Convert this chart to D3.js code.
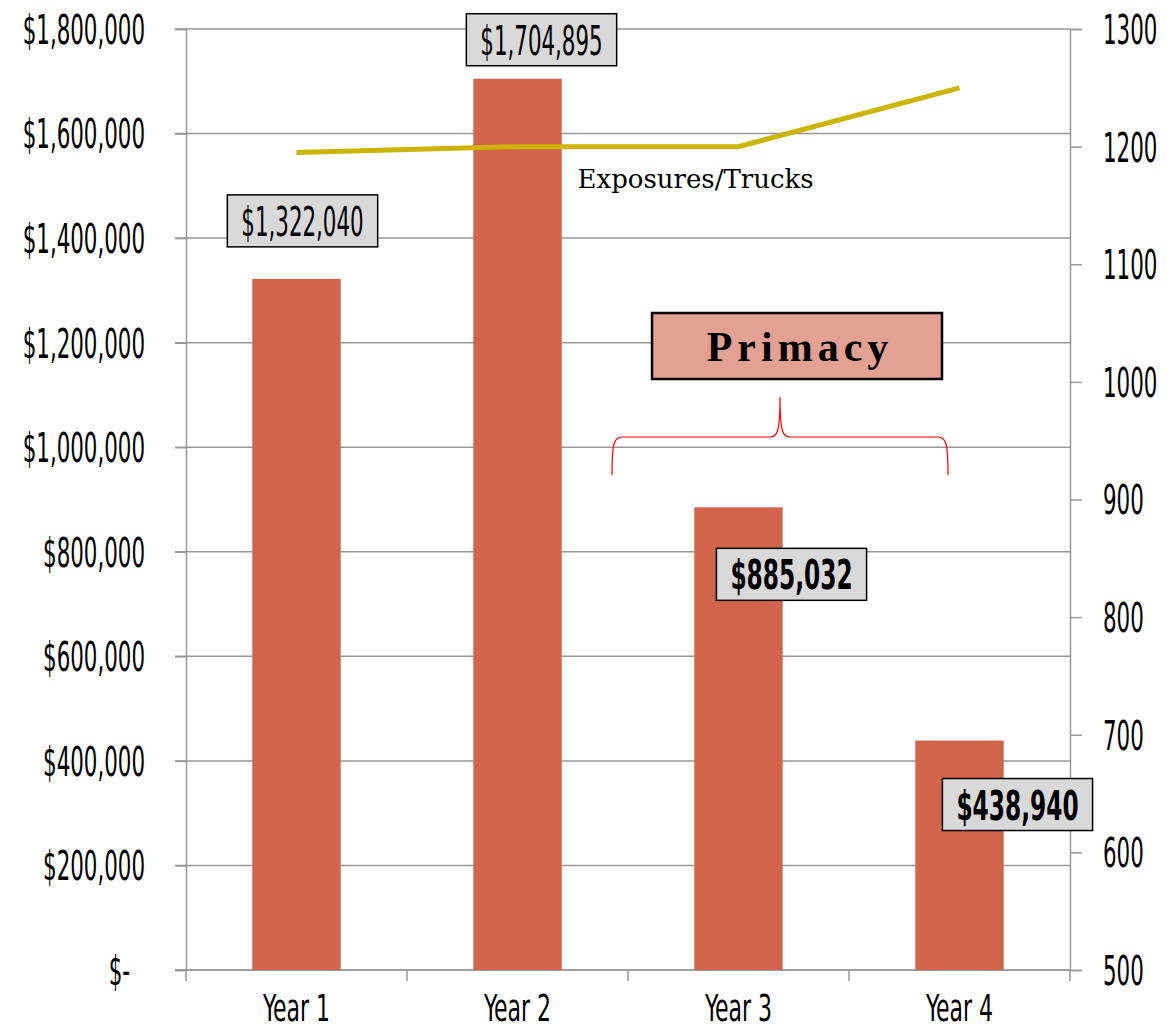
<!DOCTYPE html>
<html>
<head>
<meta charset="utf-8">
<script src="https://cdn.jsdelivr.net/npm/d3@7"></script>
<style>
  body { margin: 0; background: #fff; }
  .cond { font-family: "Liberation Sans Narrow", "DejaVu Sans Condensed", "Liberation Sans", sans-serif; }
</style>
</head>
<body>
<div id="chart"></div>
<script>
// data
const categories = ["Year 1", "Year 2", "Year 3", "Year 4"];
const premiums = [1322040, 1704895, 885032, 438940];
const exposures = [1195, 1200, 1200, 1250];
const leftTicks = [0, 200000, 400000, 600000, 800000, 1000000, 1200000, 1400000, 1600000, 1800000];
const rightTicks = [500, 600, 700, 800, 900, 1000, 1100, 1200, 1300];
const boldLabel = [false, false, true, true];
const lineName = "Exposures/Trucks";
const calloutText = "Primacy";

const width = 1173, height = 1031,
    margin = ({top: 29, right: 103, bottom: 61, left: 186});

let svg = d3.select("#chart").append("svg")
    .attr("width", width).attr("height", height)
    .attr("viewBox", [0, 0, width, height]);

let x = d3.scaleBand()
    .domain(categories)
    .range([margin.left, width - margin.right]);

let y = d3.scaleLinear()
    .domain([0, 1800000])
    .range([height - margin.bottom, margin.top]);

let y2 = d3.scaleLinear()
    .domain([500, 1300])
    .range([height - margin.bottom, margin.top]);

const grey = "#989898";
const fmt = d => d === 0 ? "$-" : "$" + d3.format(",")(d);

// squeeze text horizontally so it looks like the narrow display face of the original
function condense(sel, digitW, bold) {
    let probe = svg.append("text").attr("class", "cond")
        .attr("font-size", sel.attr("font-size") || 40)
        .attr("font-weight", bold ? "bold" : "normal")
        .text("0000000000");
    let k = digitW * 10 / probe.node().getComputedTextLength();
    probe.remove();
    sel.each(function() {
        let el = d3.select(this),
            tx = +el.attr("x") || 0, ty = +el.attr("y") || 0;
        el.attr("transform", `translate(${tx},${ty}) scale(${k},1) translate(${-tx},${-ty})`)
          .attr("data-w", this.getComputedTextLength() * k);
    });
}

// gridlines
svg.append("g")
    .selectAll("line")
    .data(leftTicks)
    .join("line")
    .attr("x1", margin.left - 11)
    .attr("x2", width - margin.right)
    .attr("y1", d => y(d)).attr("y2", d => y(d))
    .attr("stroke", grey).attr("stroke-width", 1.5);

// left axis
let gl = svg.append("g")
    .attr("transform", `translate(${margin.left},0)`)
    .call(d3.axisLeft(y).tickValues(leftTicks).tickSize(11).tickPadding(30).tickFormat(fmt));
gl.select(".domain").attr("stroke", grey).attr("stroke-width", 1.5);
gl.selectAll(".tick line").attr("stroke", grey).attr("stroke-width", 1.5);
gl.selectAll(".tick text")
    .attr("class", "cond").attr("font-size", 40).attr("fill", "#000")
    .attr("dy", "0.36em")
    .attr("x", d => d === 0 ? -56 : -41);
condense(gl.selectAll(".tick text"), 13.6);

// right axis
let gr = svg.append("g")
    .attr("transform", `translate(${width - margin.right},0)`)
    .call(d3.axisRight(y2).tickValues(rightTicks).tickSize(12).tickPadding(21).tickFormat(d3.format("d")));
gr.select(".domain").attr("stroke", grey).attr("stroke-width", 1.5);
gr.selectAll(".tick line").attr("stroke", grey).attr("stroke-width", 1.5);
gr.selectAll(".tick text")
    .attr("class", "cond").attr("font-size", 40).attr("fill", "#000")
    .attr("dy", "0.36em");
condense(gr.selectAll(".tick text"), 13.6);

// bottom axis: baseline, boundary ticks and category names
let gb = svg.append("g").attr("transform", `translate(0,${height - margin.bottom})`);
gb.append("line")
    .attr("x1", margin.left - 11).attr("x2", width - margin.right)
    .attr("stroke", grey).attr("stroke-width", 1.5);
gb.selectAll(".bound")
    .data(categories.map(c => x(c)).concat([x(categories[3]) + x.bandwidth()]))
    .join("line")
    .attr("class", "bound")
    .attr("x1", d => d).attr("x2", d => d)
    .attr("y1", 0).attr("y2", 11)
    .attr("stroke", grey).attr("stroke-width", 1.5);
let xl = gb.selectAll(".xl")
    .data(categories)
    .join("text")
    .attr("class", "cond")
    .attr("font-size", 38)
    .attr("text-anchor", "middle")
    .attr("x", d => x(d) + x.bandwidth() / 2)
    .attr("y", 51)
    .text(d => d);
condense(xl, 14);

// bars
const barW = x.bandwidth() * 0.4;
svg.append("g")
    .selectAll("rect")
    .data(premiums)
    .join("rect")
    .attr("fill", "#d2644b")
    .attr("x", (d, i) => x(categories[i]) + (x.bandwidth() - barW) / 2)
    .attr("width", barW)
    .attr("y", d => y(d))
    .attr("height", d => y(0) - y(d));

// exposures line
let line = d3.line()
    .x((d, i) => x(categories[i]) + x.bandwidth() / 2)
    .y(d => y2(d));
svg.append("path")
    .datum(exposures)
    .attr("fill", "none")
    .attr("stroke", "#ccb400")
    .attr("stroke-width", 5)
    .attr("d", line);

svg.append("text")
    .attr("x", x(categories[1]) + x.bandwidth() / 2 + 60)
    .attr("y", y2(exposures[1]) + 41)
    .attr("font-family", "DejaVu Serif, Georgia, serif")
    .attr("font-size", 26)
    .text(lineName);

// data labels (moved by hand in the original, offsets from bar top centre)
const labelOffset = [[6, -58], [24, -39], [53, 67], [58, 64]];
premiums.forEach((v, i) => {
    let cx = x(categories[i]) + x.bandwidth() / 2 + labelOffset[i][0],
        cy = y(v) + labelOffset[i][1];
    let g = svg.append("g");
    let rect = g.append("rect");
    let t = g.append("text")
        .attr("class", "cond")
        .attr("font-size", 41)
        .attr("font-weight", boldLabel[i] ? "bold" : "normal")
        .attr("text-anchor", "middle")
        .attr("x", cx).attr("y", cy + 15)
        .text(fmt(v));
    condense(t, boldLabel[i] ? 16.2 : 13.6, boldLabel[i]);
    let w = +t.attr("data-w") + 28;
    rect.attr("x", cx - w / 2).attr("y", cy - 26)
        .attr("width", w).attr("height", 52)
        .attr("fill", "#d9d9d9").attr("stroke", "#000").attr("stroke-width", 1.5);
});

// "Primacy" call-out with brace over years 3 and 4
const bx0 = x(categories[2]) - 16, bx1 = x(categories[3]) + 99, bmid = (bx0 + bx1) / 2;
const bTop = 437, bTip = 397, bEnd = 475;
svg.append("path")
    .attr("fill", "none").attr("stroke", "#ff0000").attr("stroke-width", 1.2)
    .attr("d", `M${bx0},${bEnd} C${bx0},${bTop + 6} ${bx0 + 2},${bTop} ${bx0 + 10},${bTop}
        L${bmid - 10},${bTop} C${bmid - 3},${bTop} ${bmid},${bTop - 4} ${bmid},${bTip}
        C${bmid},${bTop - 4} ${bmid + 3},${bTop} ${bmid + 10},${bTop}
        L${bx1 - 10},${bTop} C${bx1 - 2},${bTop} ${bx1},${bTop + 6} ${bx1},${bEnd}`);

let cg = svg.append("g");
cg.append("rect")
    .attr("x", bmid - 128).attr("y", 313)
    .attr("width", 290).attr("height", 66)
    .attr("fill", "#e3a193").attr("stroke", "#000").attr("stroke-width", 2.5);
cg.append("text")
    .attr("x", bmid + 20).attr("y", 361)
    .attr("text-anchor", "middle")
    .attr("font-family", "Liberation Serif, Georgia, serif")
    .attr("font-weight", "bold")
    .attr("font-size", 42)
    .attr("letter-spacing", 5)
    .text(calloutText);
</script>
</body>
</html>
